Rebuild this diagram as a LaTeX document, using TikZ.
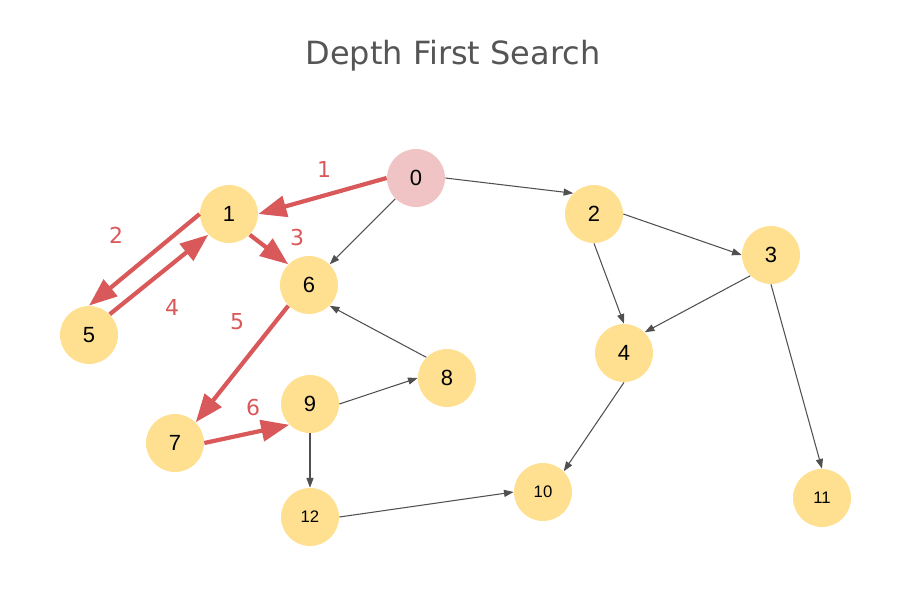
\documentclass[tikz,border=0pt]{standalone}
\usepackage{fontspec}
\setmainfont{Liberation Sans}
\newfontfamily\titlefont{DejaVu Sans}
\usetikzlibrary{arrows.meta}

\definecolor{dfsred}{RGB}{217,88,89}
\definecolor{vertexfill}{RGB}{255,224,145}
\definecolor{startfill}{RGB}{240,196,196}
\definecolor{edgegray}{RGB}{80,80,80}
\definecolor{titlegray}{RGB}{85,85,85}

\tikzset{
  vertex/.style={circle, fill=vertexfill, minimum size=1.16cm, inner sep=0pt,
                 font=\fontsize{12.5}{14}\selectfont},
  smallvertex/.style={vertex, font=\fontsize{9.5}{11}\selectfont},
  startvertex/.style={vertex, fill=startfill},
  plain/.style={draw=edgegray, line width=0.6pt,
                -{Triangle[length=5.5pt, width=4pt]}},
  visit/.style={draw=dfsred, line width=2.4pt,
                -{Triangle[length=16pt, width=12pt]}},
  steplabel/.style={text=dfsred, font=\titlefont\fontsize{12.5}{14}\selectfont}
}

\begin{document}
\begin{tikzpicture}[x=0.02cm, y=-0.02cm]
  \useasboundingbox (0,0) rectangle (917,596);

  % title
  \node[text=titlegray, font=\titlefont\fontsize{18.2}{21}\selectfont] (title) at (453,56) {Depth First Search};

  % vertices
  \node[startvertex] (n0) at (416,178) {0};
  \node[vertex] (n1) at (229,214) {1};
  \node[vertex] (n2) at (594,214) {2};
  \node[vertex] (n3) at (771,255) {3};
  \node[vertex] (n4) at (624,353) {4};
  \node[vertex] (n5) at (89,335) {5};
  \node[vertex] (n6) at (309,285) {6};
  \node[vertex] (n7) at (175,443) {7};
  \node[vertex] (n8) at (447,378) {8};
  \node[vertex] (n9) at (310,404) {9};
  \node[smallvertex] (n10) at (543,492) {10};
  \node[smallvertex] (n11) at (822,498) {11};
  \node[smallvertex] (n12) at (310,517) {12};

  % other edges
  \draw[plain] (n0.east) -- (n2.north west);
  \draw[plain] (n0.south west) -- (n6.north east);
  \draw[plain] (n2.east) -- (n3.west);
  \draw[plain] (n2.south) -- (n4.north);
  \draw[plain] (n3.south west) -- (n4.north east);
  \draw[plain] (n3.south) -- (n11.north);
  \draw[plain] (n4.south) -- (n10.north east);
  \draw[plain] (n8.north west) -- (n6.south east);
  \draw[plain] (n9.east) -- (n8.west);
  \draw[plain] (n9.south) -- (n12.north);
  \draw[plain] (n12.east) -- (n10.west);

  % search order
  \draw[visit] (n0.west) -- (n1.east);
  \draw[visit] (n1.west) -- (n5.north);
  \draw[visit] (n1.south east) -- (n6.north west);
  \draw[visit] (n5.north east) -- (n1.south west);
  \draw[visit] (n6.south west) -- (n7.north east);
  \draw[visit] (n7.east) -- (n9.south west);

  \node[steplabel] (s1) at (324,169) {1};
  \node[steplabel] (s2) at (116,235) {2};
  \node[steplabel] (s3) at (297,237) {3};
  \node[steplabel] (s4) at (172,307) {4};
  \node[steplabel] (s5) at (237,322) {5};
  \node[steplabel] (s6) at (253,407) {6};
\end{tikzpicture}
\end{document}
